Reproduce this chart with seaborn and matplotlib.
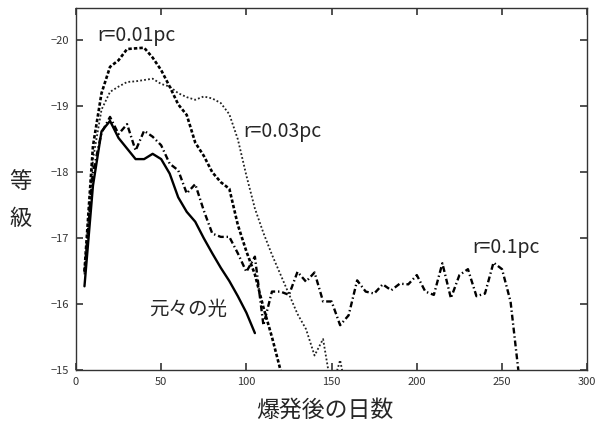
import seaborn as sns
import matplotlib.pyplot as plt
import numpy as np
import pandas as pd

# データ
days_orig = list(range(5, 110, 5))
mag_orig = [-16.27, -17.8, -18.62, -18.78, -18.52, -18.36, -18.2, -18.2, -18.28, -18.2, -17.98,
            -17.62, -17.4, -17.25, -17.0, -16.77, -16.55, -16.35, -16.12, -15.87, -15.56]

days_r001 = list(range(5, 130, 5))
mag_r001 = [-16.5, -18.4, -19.2, -19.6, -19.7, -19.87, -19.88, -19.89, -19.74, -19.55, -19.3,
            -19.03, -18.87, -18.45, -18.25, -18.0, -17.85, -17.75, -17.2, -16.8, -16.45, -15.95,
            -15.5, -15.0, -14.5]

days_r003 = list(range(5, 165, 5))
mag_r003 = [-16.45, -18.2, -18.95, -19.22, -19.3, -19.37, -19.38, -19.4, -19.42, -19.34, -19.3,
            -19.2, -19.14, -19.1, -19.15, -19.12, -19.05, -18.88, -18.5, -17.95, -17.45, -17.08,
            -16.75, -16.45, -16.15, -15.85, -15.62, -15.22, -15.47, -14.7, -15.15, -14.5]

days_r01 = list(range(5, 265, 5))
mag_r01 = [-16.48, -18.0, -18.6, -18.84, -18.58, -18.73, -18.33, -18.63, -18.54, -18.41, -18.13,
           -18.03, -17.68, -17.82, -17.42, -17.07, -17.02, -17.02, -16.77, -16.49, -16.72, -15.68,
           -16.19, -16.19, -16.14, -16.49, -16.34, -16.48, -16.04, -16.04, -15.68, -15.83, -16.36,
           -16.19, -16.16, -16.3, -16.21, -16.31, -16.3, -16.44, -16.19, -16.14, -16.62, -16.09,
           -16.44, -16.53, -16.12, -16.16, -16.63, -16.53, -16.04, -14.9]

x_ticks = [0, 50, 100, 150, 200, 250, 300]
y_ticks = [-20, -19, -18, -17, -16, -15]

sns.set_style("ticks")
plt.rcParams.update({
    'font.family': ['Noto Sans CJK JP', 'DejaVu Sans'],
    'xtick.direction': 'in', 'ytick.direction': 'in',
    'xtick.top': True, 'xtick.bottom': True, 'ytick.left': True, 'ytick.right': True,
    'xtick.major.size': 5, 'ytick.major.size': 5,
    'xtick.major.width': 1.2, 'ytick.major.width': 1.2,
    'xtick.color': '#333333', 'ytick.color': '#333333',
    'xtick.labelsize': 8, 'ytick.labelsize': 8,
    'xtick.major.pad': 5, 'ytick.major.pad': 5,
})

fig = plt.figure(figsize=(5.98, 4.29), dpi=100)
ax = fig.add_axes([0.127, 0.1375, 0.855, 0.845])

sns.lineplot(x=days_r003, y=mag_r003, ax=ax, color='#222222', lw=1.3, linestyle=(0, (1, 1.2)), errorbar=None)
sns.lineplot(x=days_r001, y=mag_r001, ax=ax, color='k', lw=1.9, linestyle=(0, (1.3, 0.8)), errorbar=None)
sns.lineplot(x=days_r01, y=mag_r01, ax=ax, color='k', lw=1.7, linestyle=(0, (2.5, 1.2, 0.6, 1.2)), errorbar=None)
sns.lineplot(x=days_orig, y=mag_orig, ax=ax, color='k', lw=1.7, errorbar=None)

ax.set_xlim(0, 300)
ax.set_ylim(-15, -20.5)
ax.set_xticks(x_ticks)
ax.set_yticks(y_ticks)
for s in ax.spines.values():
    s.set_visible(True)
    s.set_color('#333333')
    s.set_linewidth(1.0)
ax.set_xlabel('')
ax.set_ylabel('')

# 注記
ax.text(12.3, -20.08, 'r=0.01pc', fontsize=14, va='center', ha='left')
ax.text(98.3, -18.62, 'r=0.03pc', fontsize=14, va='center', ha='left')
ax.text(232.5, -16.86, 'r=0.1pc', fontsize=14, va='center', ha='left')
ax.text(43, -15.92, '元々の光', fontsize=14, va='center', ha='left')

fig.text(0.543, 0.044, '爆発後の日数', fontsize=16.5, ha='center', va='center')
fig.text(0.034, 0.534, '等\n級', fontsize=16, ha='center', va='center', linespacing=1.75)

plt.savefig('out.png', dpi=100)
